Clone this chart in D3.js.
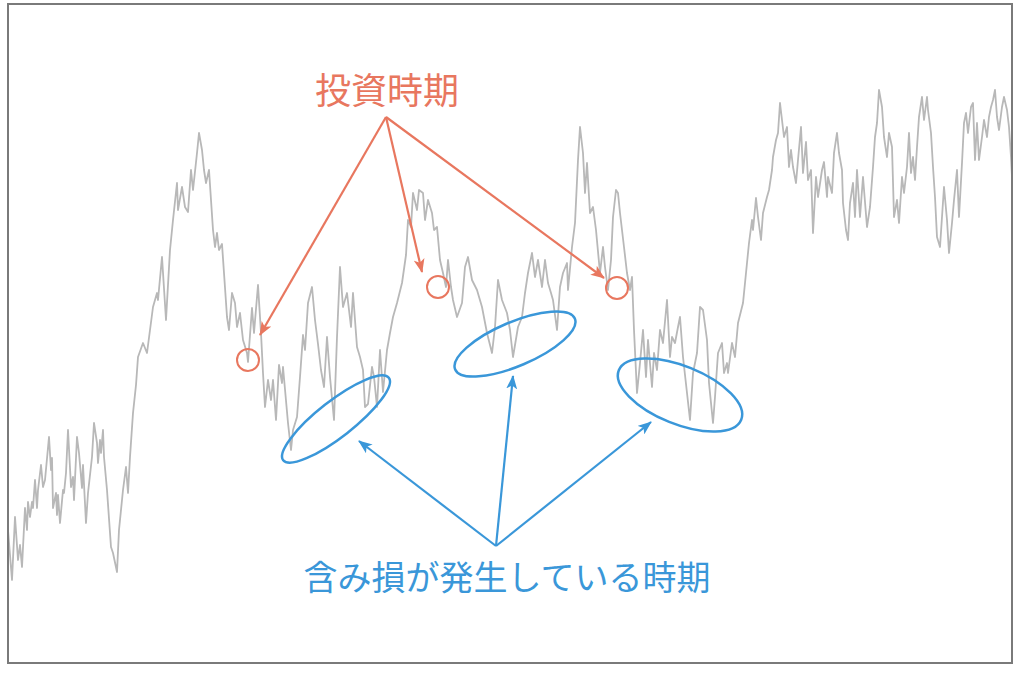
<!DOCTYPE html>
<html><head><meta charset="utf-8">
<script src="https://cdn.jsdelivr.net/npm/d3@7"></script>
<style>html,body{margin:0;padding:0;background:#fff;}svg{display:block;}</style>
</head><body>
<svg id="chart" width="1024" height="674"></svg>
<script>
// x position in chart "days", price value (arbitrary units)
const day = [0,4,7,10,12,14,17,19,20,22,24,25,27,29,30,33,35,37,41,43,44,45,48,49,50,52,55,56,58,60,63,65,66,69,71,74,75,78,80,84,86,89,90,92,93,95,96,99,103,105,109,111,115,118,120,122,125,128,130,135,139,145,149,150,154,158,162,165,169,170,174,177,180,183,185,189,191,194,196,198,201,203,205,207,209,211,214,216,219,221,224,227,229,232,235,239,240,244,246,250,253,255,257,260,263,265,268,271,274,275,280,283,285,289,292,295,297,300,304,307,310,313,316,319,322,326,329,332,335,339,343,345,349,352,355,357,360,364,366,369,372,375,379,382,385,389,394,398,400,403,405,409,411,415,417,420,424,426,429,432,435,438,440,443,445,449,454,457,460,464,469,474,479,484,487,490,494,499,502,505,510,514,517,520,524,527,530,534,537,540,543,545,549,552,555,559,560,564,567,570,572,575,577,579,582,585,588,592,595,597,600,603,605,608,610,612,616,619,622,624,626,629,632,635,638,640,644,646,649,652,655,659,662,664,667,670,672,675,679,682,685,689,692,695,699,701,705,707,710,714,716,719,720,724,727,730,735,737,739,741,744,745,748,750,753,755,759,761,764,765,768,770,772,774,776,779,781,783,785,788,790,793,795,798,800,803,805,808,810,814,816,819,820,824,826,829,831,834,835,838,840,842,845,847,849,852,855,859,862,865,867,869,871,874,876,879,881,884,886,889,891,894,896,899,901,903,905,907,909,911,914,916,919,920,923,925,927,929,932,934,936,939,941,944,946,949,951,954,956,958,960,963,965,967,969,971,974,976,979,981,983,985,987,989,991,994,996,999,1001,1003,1005];
const price = [144,94,157,114,129,107,166,144,172,157,172,166,194,166,184,209,187,194,237,204,216,166,181,159,179,151,184,181,201,244,187,197,174,237,221,186,209,151,181,217,251,231,211,234,221,244,217,184,127,121,102,144,184,207,181,217,261,289,317,331,321,367,381,374,417,354,424,454,491,464,487,467,462,504,484,521,541,524,504,491,504,474,444,427,441,424,430,401,357,344,381,371,347,361,334,321,312,366,341,389,341,301,267,294,274,294,254,309,291,307,251,224,244,257,297,339,324,371,387,354,330,304,287,337,297,254,337,407,367,381,347,381,327,317,304,267,270,307,297,267,324,282,324,341,357,371,391,419,454,447,481,464,484,481,454,474,461,444,447,414,401,387,414,387,374,357,371,407,417,394,384,367,341,321,347,394,374,361,344,317,347,357,381,401,421,397,414,387,414,391,381,374,344,387,401,411,384,427,451,514,547,521,481,511,461,467,444,401,427,407,384,414,457,484,481,461,427,401,384,397,344,281,311,344,297,334,287,321,304,344,331,374,317,337,331,347,357,317,281,254,301,321,367,364,334,291,251,277,321,331,301,311,301,331,317,351,371,391,411,431,454,444,476,457,434,461,477,484,504,517,534,541,571,554,537,547,507,524,507,491,514,547,501,532,494,504,441,497,477,504,512,477,497,481,521,541,521,504,471,444,434,471,491,457,504,457,497,447,467,507,537,551,584,567,537,517,541,527,457,474,451,497,481,507,541,501,517,494,527,557,577,554,577,564,541,507,477,437,427,457,487,454,421,451,474,504,457,511,551,561,541,567,571,514,551,514,537,554,537,557,567,574,584,557,544,567,577,564,547,517,477,441,471,477];

// annotation data
const investDay = [240, 430, 609];
const investPrice = [314, 387, 386];
const lossEllipses = [ // center day, center price, rx, ry, angle
  {d: 328, p: 255, rx: 67, ry: 18, a: -38},
  {d: 507, p: 330, rx: 65, ry: 22, a: -23},
  {d: 672, p: 279, rx: 66, ry: 29, a: 22}
];
const investLabel = "投資時期";
const lossLabel = "含み損が発生している時期";

const svg = d3.select("#chart");
const x = d3.scaleLinear().domain([0, 1005]).range([8, 1013]);
const y = d3.scaleLinear().domain([0, 674]).range([674, 0]);

const RED = "#e8775f", BLUE = "#3a97d9";

const defs = svg.append("defs");
defs.append("clipPath").attr("id", "clip").append("rect")
  .attr("x", 8).attr("y", 4).attr("width", 1004).attr("height", 659);
function marker(id, color) {
  defs.append("marker").attr("id", id)
    .attr("viewBox", "0 0 14 11").attr("refX", 13).attr("refY", 5.5)
    .attr("markerWidth", 14).attr("markerHeight", 11)
    .attr("markerUnits", "userSpaceOnUse").attr("orient", "auto")
    .append("path").attr("d", "M0,0 L14,5.5 L0,11 L3.5,5.5 Z").attr("fill", color);
}
marker("arrR", RED);
marker("arrB", BLUE);

const pts = day.map((d, i) => [d, price[i]]);
svg.append("path")
  .datum(pts)
  .attr("clip-path", "url(#clip)")
  .attr("fill", "none")
  .attr("stroke", "#b8b8b8")
  .attr("stroke-width", 1.8)
  .attr("stroke-linejoin", "round")
  .attr("d", d3.line().x(d => x(d[0])).y(d => y(d[1])));

// frame
svg.append("rect").attr("x", 8).attr("y", 4).attr("width", 1004).attr("height", 659)
  .attr("fill", "none").attr("stroke", "#7a7a7a").attr("stroke-width", 2);

// invest circles
svg.selectAll(".inv").data(investDay).join("circle")
  .attr("cx", d => x(d)).attr("cy", (d, i) => y(investPrice[i]))
  .attr("r", 11).attr("fill", "none").attr("stroke", RED).attr("stroke-width", 2);

// red arrows
const redApex = [386, 117];
const redTips = [[260, 335], [422, 272], [604, 278]];
redTips.forEach(t => {
  svg.append("line").attr("x1", redApex[0]).attr("y1", redApex[1])
    .attr("x2", t[0]).attr("y2", t[1])
    .attr("stroke", RED).attr("stroke-width", 2.2).attr("marker-end", "url(#arrR)");
});
svg.append("text").attr("x", 387).attr("y", 104)
  .attr("text-anchor", "middle").attr("font-family", "'Noto Sans CJK JP', sans-serif")
  .attr("font-size", 36).attr("fill", RED).text(investLabel);

// loss ellipses
svg.selectAll(".loss").data(lossEllipses).join("ellipse")
  .attr("transform", d => `translate(${x(d.d)},${y(d.p)}) rotate(${d.a})`)
  .attr("rx", d => d.rx).attr("ry", d => d.ry)
  .attr("fill", "none").attr("stroke", BLUE).attr("stroke-width", 2.5);

const blueApex = [496, 546];
const blueTips = [[359, 441], [513, 376], [651, 422]];
blueTips.forEach(t => {
  svg.append("line").attr("x1", blueApex[0]).attr("y1", blueApex[1])
    .attr("x2", t[0]).attr("y2", t[1])
    .attr("stroke", BLUE).attr("stroke-width", 2.2).attr("marker-end", "url(#arrB)");
});
svg.append("text").attr("x", 507).attr("y", 590)
  .attr("text-anchor", "middle").attr("font-family", "'Noto Sans CJK JP', sans-serif")
  .attr("font-size", 34).attr("fill", BLUE).text(lossLabel);
</script>
</body></html>
